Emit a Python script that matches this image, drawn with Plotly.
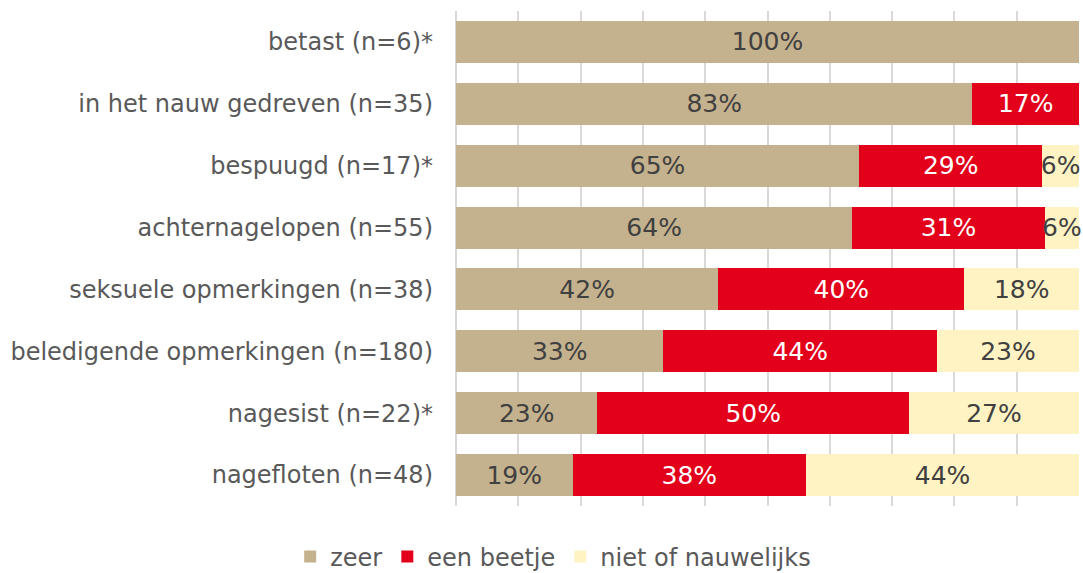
import plotly.graph_objects as go

categories = [
    "betast (n=6)*",
    "in het nauw gedreven (n=35)",
    "bespuugd (n=17)*",
    "achternagelopen (n=55)",
    "seksuele opmerkingen (n=38)",
    "beledigende opmerkingen (n=180)",
    "nagesist (n=22)*",
    "nagefloten (n=48)",
]
zeer = [100, 82.9, 64.7, 63.6, 42.1, 33.3, 22.7, 18.7]
een_beetje = [0, 17.1, 29.4, 30.9, 39.5, 43.9, 50.0, 37.5]
niet_of_nauwelijks = [0, 0, 5.9, 5.5, 18.4, 22.8, 27.3, 43.8]

series = [
    ("zeer", zeer, "#C4B18D", "#404040"),
    ("een beetje", een_beetje, "#E2001A", "#FFFFFF"),
    ("niet of nauwelijks", niet_of_nauwelijks, "#FFF3C4", "#404040"),
]

fig = go.Figure()
for name, vals, color, tcolor in series:
    labels = [f"{int(v + 0.5)}%" if v > 0 else "" for v in vals]
    fig.add_trace(go.Bar(
        name=name, y=categories, x=vals, orientation="h",
        marker=dict(color=color, line=dict(width=0)),
        text=labels, textposition="inside", insidetextanchor="middle",
        textangle=0, constraintext="none", cliponaxis=False,
        textfont=dict(family="DejaVu Sans", size=25, color=tcolor),
        hoverinfo="skip",
    ))

fig.update_layout(
    barmode="stack",
    bargap=0.32,
    width=1083, height=573,
    margin=dict(l=456, r=4, t=11, b=67, autoexpand=False),
    paper_bgcolor="white", plot_bgcolor="white",
    font=dict(family="DejaVu Sans", color="#595959", size=24),
    uniformtext=dict(minsize=25, mode="show"),
    showlegend=True,
    legend=dict(orientation="h", x=0.156, xanchor="center",
                y=-0.103, yanchor="middle",
                font=dict(size=24, color="#595959"), traceorder="normal",
                itemwidth=30),
)
fig.update_xaxes(range=[0, 100], dtick=10, showgrid=True, gridcolor="#D9D9D9", gridwidth=2,
                 zeroline=True, zerolinecolor="#D9D9D9", zerolinewidth=2,
                 showticklabels=False, showline=False, ticks="", fixedrange=True)
fig.update_yaxes(autorange="reversed", showgrid=False, showline=False, ticks="",
                 ticklabelstandoff=22, tickfont=dict(size=24, color="#595959"),
                 fixedrange=True)

fig.write_html("out.html", config={"displayModeBar": False},
               post_script="document.body.style.margin='0';document.body.style.overflow='hidden';")
